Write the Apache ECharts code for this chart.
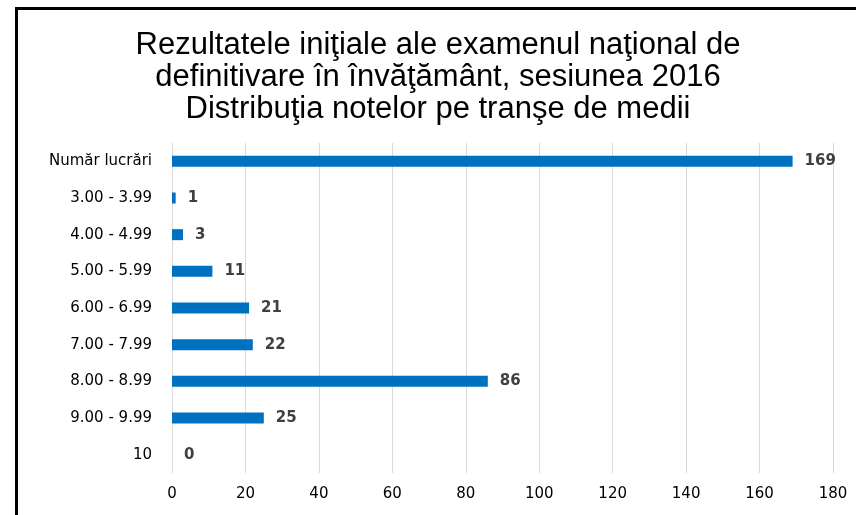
<!DOCTYPE html>
<html>
<head>
<meta charset="utf-8">
<script src="https://cdn.jsdelivr.net/npm/echarts@6/dist/echarts.min.js"></script>
<style>
  html, body { margin: 0; padding: 0; background: #fff; }
  #frame {
    position: absolute; left: 15px; top: 7px; width: 900px; height: 600px;
    border-left: 3px solid #000; border-top: 3px solid #000;
  }
  #chart { position: absolute; left: 0; top: 0; width: 856px; height: 515px; }
</style>
</head>
<body>
<div id="frame"></div>
<div id="chart"></div>
<script>
const categories = [
  "Număr lucrări", "3.00 - 3.99", "4.00 - 4.99", "5.00 - 5.99", "6.00 - 6.99",
  "7.00 - 7.99", "8.00 - 8.99", "9.00 - 9.99", "10"
];
const values = [169, 1, 3, 11, 21, 22, 86, 25, 0];
const xTicks = { min: 0, max: 180, interval: 20 };

const chart = echarts.init(document.getElementById("chart"));

const option = {
  animation: false,
  title: {
    text: "Rezultatele iniţiale ale examenul naţional de\ndefinitivare în învăţământ, sesiunea 2016\nDistribuţia notelor pe tranşe de medii",
    left: 433,
    top: 24,
    textAlign: "center",
    textStyle: {
      fontFamily: "Liberation Sans",
      fontSize: 31,
      fontWeight: "normal",
      color: "#000",
      lineHeight: 32,
    },
  },
  grid: {
    left: 172,
    right: 23,
    top: 143,
    bottom: 42,
    containLabel: false,
  },
  xAxis: {
    type: "value",
    min: xTicks.min,
    max: xTicks.max,
    interval: xTicks.interval,
    axisLine: { show: false },
    axisTick: { show: false },
    splitLine: { lineStyle: { color: "#d9d9d9", width: 1 } },
    axisLabel: {
      margin: 14,
      color: "#000",
      fontSize: 15,
      fontFamily: "DejaVu Sans",
    },
  },
  yAxis: {
    type: "category",
    inverse: true,
    data: categories,
    axisLine: { show: false },
    axisTick: { show: false },
    axisLabel: {
      margin: 20,
      color: "#000",
      fontSize: 15,
      fontFamily: "DejaVu Sans",
    },
  },
  series: [
    {
      type: "bar",
      data: values,
      barWidth: 11,
      itemStyle: { color: "#0070c0" },
      label: {
        show: true,
        position: "right",
        distance: 12,
        color: "#404040",
        fontSize: 15,
        fontWeight: "bold",
        fontFamily: "DejaVu Sans",
      },
    },
  ],
};

chart.setOption(option);
</script>
</body>
</html>
